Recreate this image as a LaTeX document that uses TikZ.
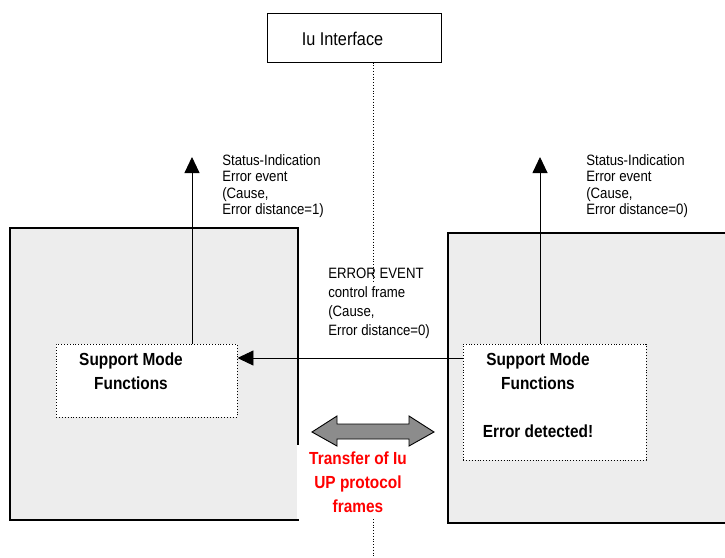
\documentclass[tikz,border=0pt]{standalone}
\usepackage{fontspec}
\setmainfont{Liberation Sans}[FakeStretch=0.88]
\usepackage{tikz}
\usetikzlibrary{arrows.meta}

\begin{document}
\begin{tikzpicture}[x=1pt, y=-1pt, semithick,
    >={Triangle[length=16pt,width=15pt]},
    rnc/.style={draw, line width=1.2pt, fill=black!7, inner sep=0pt},
    smf/.style={draw, dotted, line width=0.9pt, fill=white, inner sep=0pt},
    txt/.style={inner sep=0pt, font=\fontsize{15}{16.5}\selectfont, align=left},
    bold/.style={inner sep=0pt, font=\fontsize{17.5}{24}\selectfont\bfseries, align=center}]

  \useasboundingbox (0,0) rectangle (725,557);

  \node[rnc, minimum width=288pt, minimum height=292pt] (rncL) at (154,374) {};
  \node[rnc, minimum width=292pt, minimum height=290pt] (rncR) at (594,378) {};

  \node[draw, line width=1pt, minimum width=174pt, minimum height=49pt, inner sep=0pt] (iu) at (354,37.5) {};
  \node[anchor=base, inner sep=0pt, font=\fontsize{18.5}{20}\selectfont] (iulbl) at (342.5,45) {Iu Interface};

  \coordinate (ifc) at (373,557);
  \draw [dotted, line width=0.8pt] (iu.south -| ifc) -- (ifc);

  \fill[white] (300,283) rectangle (446,445);
  \fill[white] (297,445) rectangle (446,519);

  \node[smf, minimum width=181pt, minimum height=73pt] (smfL) at (146.5,380.5) {};
  \node[smf, minimum width=183pt, minimum height=116pt] (smfR) at (554.5,402) {};

  \coordinate (tipL) at (192,157);
  \coordinate (tipR) at (540,157);
  \coordinate (ctl) at (0,358);
  \draw [->, line width=0.9pt] (tipL |- smfL.north) -- (tipL);
  \draw [->, line width=0.9pt] (tipR |- smfR.north) -- (tipR);
  \draw [->, line width=0.9pt] (smfR.west |- ctl) -- (smfL.east |- ctl);

  \node[txt, anchor=north west] (stL) at (222,154) {Status-Indication\\Error event\\(Cause,\\Error distance=1)};
  \node[txt, anchor=north west] (stR) at (586,154) {Status-Indication\\Error event\\(Cause,\\Error distance=0)};
  \node[txt, anchor=north west, font=\fontsize{15}{19}\selectfont] (ee) at (328,268) {ERROR EVENT\\control frame\\(Cause,\\Error distance=0)};

  \node[bold, anchor=north] (smfLtxt) at (131,353) {Support Mode\\Functions};
  \node[bold, anchor=north] (smfRtxt) at (538,353) {Support Mode\\Functions\\[24pt]Error detected!};

  \draw [fill=black!45, line width=0.9pt] (312,432) -- (337,416) -- (337,424) -- (409,424) -- (409,416)
    -- (434,432) -- (409,446) -- (409,439) -- (337,439) -- (337,446) -- cycle;
  \node[bold, text=red, anchor=north] (xfer) at (358,452) {Transfer of Iu\\UP protocol\\frames};
\end{tikzpicture}
\end{document}
